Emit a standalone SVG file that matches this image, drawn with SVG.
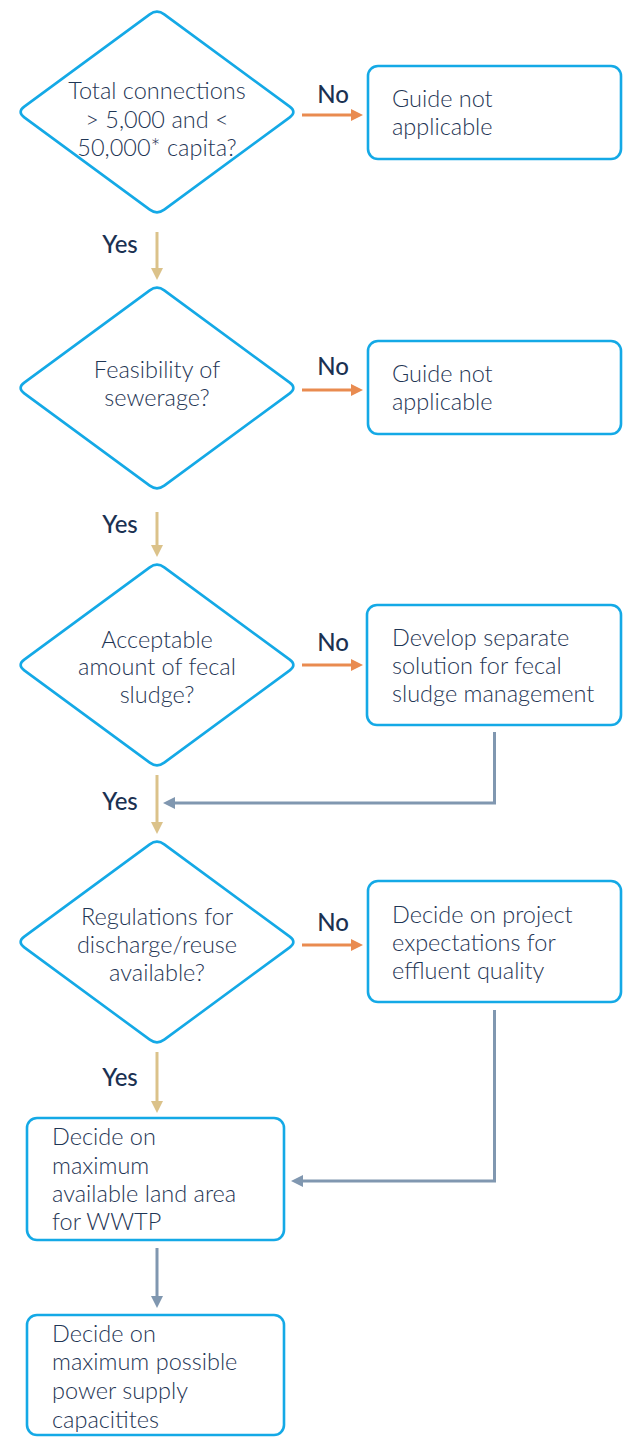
<svg xmlns="http://www.w3.org/2000/svg" width="626" height="1437" viewBox="0 0 626 1437">
<style>
.shape{fill:#fff;stroke:#14a9e6;stroke-width:2.6}
.t{font-family:Lato,"Noto Sans",sans-serif;font-size:23.5px;font-weight:300;fill:#1f3655}
.tc{text-anchor:middle}
.lbl{font-family:Lato,"Noto Sans",sans-serif;font-size:24px;font-weight:500;fill:#1b3152;text-anchor:middle}
.no{stroke:#e98b50;stroke-width:3;fill:none}
.yes{stroke:#dbc28a;stroke-width:3;fill:none}
.gr{stroke:#8097b0;stroke-width:3;fill:none}
</style>
<defs>
<path id="dia" d="M -7.25,-97.67 Q 0,-103 7.25,-97.67 L 132.75,-5.33 Q 140,0 132.75,5.33 L 7.25,97.67 Q 0,103 -7.25,97.67 L -132.75,5.33 Q -140,0 -132.75,-5.33 Z"/>
<marker id="aNo" viewBox="0 0 12 12" refX="4" refY="6" markerWidth="12" markerHeight="12" markerUnits="userSpaceOnUse" orient="auto"><path d="M0,0 L12,6 L0,12 Z" fill="#e98b50"/></marker>
<marker id="aYes" viewBox="0 0 12 12" refX="4" refY="6" markerWidth="12" markerHeight="12" markerUnits="userSpaceOnUse" orient="auto"><path d="M0,0 L12,6 L0,12 Z" fill="#dbc28a"/></marker>
<marker id="aGr" viewBox="0 0 12 12" refX="4" refY="6" markerWidth="12" markerHeight="12" markerUnits="userSpaceOnUse" orient="auto"><path d="M0,0 L12,6 L0,12 Z" fill="#8097b0"/></marker>
</defs>

<g id="connectors">
<path class="no" d="M302,115 H355" marker-end="url(#aNo)"/>
<path class="no" d="M302,390 H355" marker-end="url(#aNo)"/>
<path class="no" d="M302,665 H355" marker-end="url(#aNo)"/>
<path class="no" d="M302,945 H355" marker-end="url(#aNo)"/>
<path class="yes" d="M157,232 V272" marker-end="url(#aYes)"/>
<path class="yes" d="M157,512 V549" marker-end="url(#aYes)"/>
<path class="yes" d="M157,775 V826" marker-end="url(#aYes)"/>
<path class="yes" d="M157,1052 V1105" marker-end="url(#aYes)"/>
<path class="gr" d="M494.5,732 V803 H171" marker-end="url(#aGr)"/>
<path class="gr" d="M494.5,1010 V1181 H299" marker-end="url(#aGr)"/>
<path class="gr" d="M157,1248 V1300" marker-end="url(#aGr)"/>
<text class="lbl" x="333" y="103">No</text>
<text class="lbl" x="333" y="375">No</text>
<text class="lbl" x="333" y="651">No</text>
<text class="lbl" x="333" y="931">No</text>
<text class="lbl" x="120" y="253">Yes</text>
<text class="lbl" x="120" y="533">Yes</text>
<text class="lbl" x="120" y="810">Yes</text>
<text class="lbl" x="120" y="1086">Yes</text>
</g>

<g id="d1">
<use href="#dia" class="shape" x="157" y="112"/>
<text class="t tc" x="157" y="99">Total connections</text>
<text class="t tc" x="157" y="128">&gt; 5,000 and &lt;</text>
<text class="t tc" x="157" y="156">50,000* capita?</text>
</g>
<g id="b1">
<rect class="shape" x="368" y="66" width="253" height="93" rx="10"/>
<text class="t" x="392" y="107">Guide not</text>
<text class="t" x="392" y="135">applicable</text>
</g>

<g id="d2">
<use href="#dia" class="shape" x="157" y="388"/>
<text class="t tc" x="157" y="378">Feasibility of</text>
<text class="t tc" x="157" y="406">sewerage?</text>
</g>
<g id="b2">
<rect class="shape" x="368" y="341" width="253" height="93" rx="10"/>
<text class="t" x="392" y="382">Guide not</text>
<text class="t" x="392" y="410">applicable</text>
</g>

<g id="d3">
<use href="#dia" class="shape" x="157" y="665"/>
<text class="t tc" x="157" y="648">Acceptable</text>
<text class="t tc" x="157" y="675">amount of fecal</text>
<text class="t tc" x="157" y="703">sludge?</text>
</g>
<g id="b3">
<rect class="shape" x="367" y="605" width="254" height="120" rx="10"/>
<text class="t" x="392" y="646">Develop separate</text>
<text class="t" x="392" y="674">solution for fecal</text>
<text class="t" x="392" y="702">sludge management</text>
</g>

<g id="d4">
<use href="#dia" class="shape" x="157" y="942"/>
<text class="t tc" x="157" y="925">Regulations for</text>
<text class="t tc" x="157" y="953">discharge/reuse</text>
<text class="t tc" x="157" y="981">available?</text>
</g>
<g id="b4">
<rect class="shape" x="368" y="881" width="253" height="121" rx="10"/>
<text class="t" x="392" y="923">Decide on project</text>
<text class="t" x="392" y="951">expectations for</text>
<text class="t" x="392" y="979">effluent quality</text>
</g>

<g id="b5">
<rect class="shape" x="27" y="1118" width="257" height="122" rx="10"/>
<text class="t" x="52" y="1145">Decide on</text>
<text class="t" x="52" y="1174">maximum</text>
<text class="t" x="52" y="1202">available land area</text>
<text class="t" x="52" y="1230">for WWTP</text>
</g>

<g id="b6">
<rect class="shape" x="27" y="1315" width="257" height="120" rx="10"/>
<text class="t" x="52" y="1342">Decide on</text>
<text class="t" x="52" y="1370">maximum possible</text>
<text class="t" x="52" y="1399">power supply</text>
<text class="t" x="52" y="1428">capacitites</text>
</g>
</svg>
